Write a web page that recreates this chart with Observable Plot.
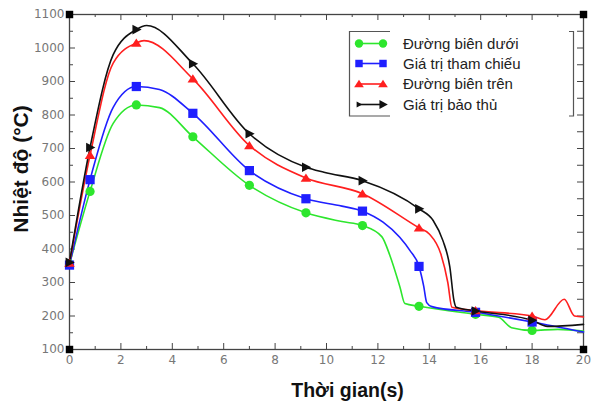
<!DOCTYPE html>
<html><head><meta charset="utf-8">
<script src="https://cdn.jsdelivr.net/npm/d3@7"></script>
<script src="https://cdn.jsdelivr.net/npm/@observablehq/plot@0.6"></script>
<style>
body{margin:0;background:#fff;}
#wrap{position:relative;width:591px;height:406px;overflow:hidden;}
#wrap > svg{display:block;}
#legend{position:absolute;left:0;top:0;}
</style></head><body><div id="wrap"></div>
<script>
// ---- data ----
const seriesNames = ["Đường biên dưới", "Giá trị tham chiếu", "Đường biên trên", "Giá trị bảo thủ"];
const markerTimes = [0, 0.8, 2.6, 4.8, 7, 9.2, 11.4, 13.6, 15.8, 18];

const timeLower = [0, 0.8, 1.7, 2.6, 3.5, 4.8, 7, 9.2, 10.6, 11.4, 12.15, 12.47, 12.86, 13.05, 13.6, 15.8, 16.7, 17.2, 18, 19, 20];
const tempLower = [355, 572, 775, 830, 822, 735, 590, 508, 482, 470, 437, 380, 286, 237, 229, 205, 196, 165, 157, 160, 155];

const timeRef = [0, 0.8, 1.7, 2.6, 3.5, 4.8, 7, 9.2, 10.6, 11.4, 12.2, 12.85, 13.25, 13.6, 13.78, 13.9, 14.1, 15.8, 18, 20];
const tempRef = [352, 607, 823, 885, 876, 805, 634, 550, 528, 513, 480, 435, 395, 348, 290, 240, 228, 211, 182, 152];

const timeUpper = [0, 0.8, 1.7, 2.6, 2.9, 4.8, 7, 9.2, 11.4, 13.6, 14.0, 14.45, 14.72, 14.88, 15.8, 18, 18.5, 19.25, 19.65, 20];
const tempUpper = [358, 680, 955, 1015, 1022, 908, 709, 612, 565, 463, 445, 385, 300, 226, 216, 200, 189, 250, 200, 197];

const timeCons = [0, 0.8, 1.7, 2.6, 3.0, 4.8, 7, 9.2, 9.9, 11.4, 13.6, 14.15, 14.53, 14.8, 14.96, 15.05, 15.8, 18, 18.6, 20];
const tempCons = [360, 703, 980, 1055, 1067, 953, 744, 644, 629, 604, 520, 485, 425, 346, 246, 226, 215, 187, 169, 175];

const xDomain = [0, 20];
const yDomain = [100, 1100];
const xTicksMajor = [0, 2, 4, 6, 8, 10, 12, 14, 16, 18, 20];
const xTicksMinor = [1, 3, 5, 7, 9, 11, 13, 15, 17, 19];
const yTicksMajor = [100, 200, 300, 400, 500, 600, 700, 800, 900, 1000, 1100];
const yTicksMinor = [150, 250, 350, 450, 550, 650, 750, 850, 950, 1050];
const xTitle = "Thời gian(s)";
const yTitle = "Nhiệt độ (°C)";

// ---- styling ----
const colors = ["#2de62d", "#1f1fff", "#ff1f1f", "#111111"];
const triUp = {draw(ctx, size) { const r = Math.sqrt(size / Math.PI); ctx.moveTo(0, -r); ctx.lineTo(r * 1.15, r * 0.8); ctx.lineTo(-r * 1.15, r * 0.8); ctx.closePath(); }};
const triRight = {draw(ctx, size) { const r = Math.sqrt(size / Math.PI); ctx.moveTo(r * 1.15, 0); ctx.lineTo(-r * 0.85, -r * 1.05); ctx.lineTo(-r * 0.85, r * 1.05); ctx.closePath(); }};
const symbols = ["circle", "square", triUp, triRight];
const radii = [4.6, 5.2, 4.6, 4.6];

const raw = [[timeLower, tempLower], [timeRef, tempRef], [timeUpper, tempUpper], [timeCons, tempCons]];
const series = raw.map(([t, v], i) => ({
  name: seriesNames[i],
  points: t.map((tt, j) => ({t: tt, v: v[j], s: seriesNames[i]}))
}));

const W = 591, H = 406, mL = 69, mR = 8, mT = 14, mB = 57;
const plotW = W - mL - mR, plotH = H - mT - mB;
const axisCol = "#444";

const marks = [];
// ticks (inward on all four sides)
marks.push(Plot.tickX(xTicksMajor, {x: d => d, insetTop: plotH - 6, stroke: axisCol}));
marks.push(Plot.tickX(xTicksMinor, {x: d => d, insetTop: plotH - 3, stroke: axisCol}));
marks.push(Plot.tickX(xTicksMajor, {x: d => d, insetBottom: plotH - 6, stroke: axisCol}));
marks.push(Plot.tickX(xTicksMinor, {x: d => d, insetBottom: plotH - 3, stroke: axisCol}));
marks.push(Plot.tickY(yTicksMajor, {y: d => d, insetRight: plotW - 6, stroke: axisCol}));
marks.push(Plot.tickY(yTicksMinor, {y: d => d, insetRight: plotW - 4, stroke: axisCol}));
marks.push(Plot.tickY(yTicksMajor.concat(yTicksMinor), {y: d => d, insetLeft: plotW - 6, stroke: axisCol}));
marks.push(Plot.frame({stroke: axisCol, strokeWidth: 1.3}));
marks.push(Plot.axisX({ticks: xTicksMajor, tickSize: 0, tickPadding: 6, tickFormat: "d", label: null, fill: "#777", fontSize: 12}));
marks.push(Plot.axisY({ticks: yTicksMajor, tickSize: 0, tickPadding: 5, tickFormat: "d", label: null, fill: "#777", fontSize: 12}));

// lines
series.forEach((s, i) => {
  marks.push(Plot.line(s.points, {x: "t", y: "v", stroke: colors[i], strokeWidth: 1.6, curve: "monotone-x"}));
});
// markers
series.forEach((s, i) => {
  marks.push(Plot.dot(s.points.filter(p => markerTimes.includes(p.t)), {x: "t", y: "v", fill: colors[i], stroke: "none", symbol: symbols[i], r: radii[i]}));
});
// corner squares
const corners = [];
xDomain.forEach(x => yDomain.forEach(y => corners.push({x, y})));
marks.push(Plot.dot(corners, {x: "x", y: "y", symbol: "square", r: 4.2, fill: "#000", stroke: "none"}));

// axis titles
marks.push(Plot.text([yTitle], {frameAnchor: "left", text: d => d, rotate: -90, dx: -48, dy: -13, fontSize: 21, fontWeight: "bold", fontFamily: "Liberation Sans, Arial, sans-serif", fill: "#111", textAnchor: "middle", lineAnchor: "middle"}));
marks.push(Plot.text([xTitle], {frameAnchor: "bottom", text: d => d, dx: 21, dy: 41, fontSize: 19.5, fontWeight: "bold", fontFamily: "Liberation Sans, Arial, sans-serif", fill: "#111", textAnchor: "middle", lineAnchor: "middle"}));

const chart = Plot.plot({
  width: W, height: H,
  marginLeft: mL, marginRight: mR, marginTop: mT, marginBottom: mB,
  x: {domain: xDomain},
  y: {domain: yDomain},
  style: {fontFamily: "DejaVu Sans, sans-serif", fontSize: "12px", background: "#fff", color: "#777", overflow: "visible"},
  marks
});
const wrap = document.getElementById("wrap");
wrap.appendChild(chart);

// legend overlay
const ns = "http://www.w3.org/2000/svg";
const lg = d3.select(wrap).append("svg").attr("id", "legend").attr("width", W).attr("height", H);
lg.append("path").attr("d", "M390,31.5H349.5V116H390").attr("fill", "none").attr("stroke", "#555").attr("stroke-width", 1.2);
lg.append("path").attr("d", "M569,31.5H573.5V116H569").attr("fill", "none").attr("stroke", "#555").attr("stroke-width", 1.2);
const rowY = [43.5, 63.5, 84, 104.5];
seriesNames.forEach((name, i) => {
  const y = rowY[i];
  const g = lg.append("g");
  g.append("line").attr("x1", 358).attr("x2", 384).attr("y1", y).attr("y2", y).attr("stroke", colors[i]).attr("stroke-width", 1.6);
  [359, 383].forEach((cx, k) => {
    const sym = symbols[i];
    const size = Math.PI * 4.2 * 4.2;
    const path = typeof sym === "string" ? d3.symbol(sym === "circle" ? d3.symbolCircle : d3.symbolSquare, size)() : d3.symbol(sym, (i === 3 && k === 0) ? size * 0.45 : size)();
    g.append("path").attr("d", path).attr("transform", `translate(${cx},${y})`).attr("fill", colors[i]);
  });
  lg.append("text").attr("x", 403).attr("y", y).attr("dy", "0.35em").attr("font-family", "Liberation Sans, Arial, sans-serif").attr("font-size", 15).attr("fill", "#222").text(name);
});
</script></body></html>
